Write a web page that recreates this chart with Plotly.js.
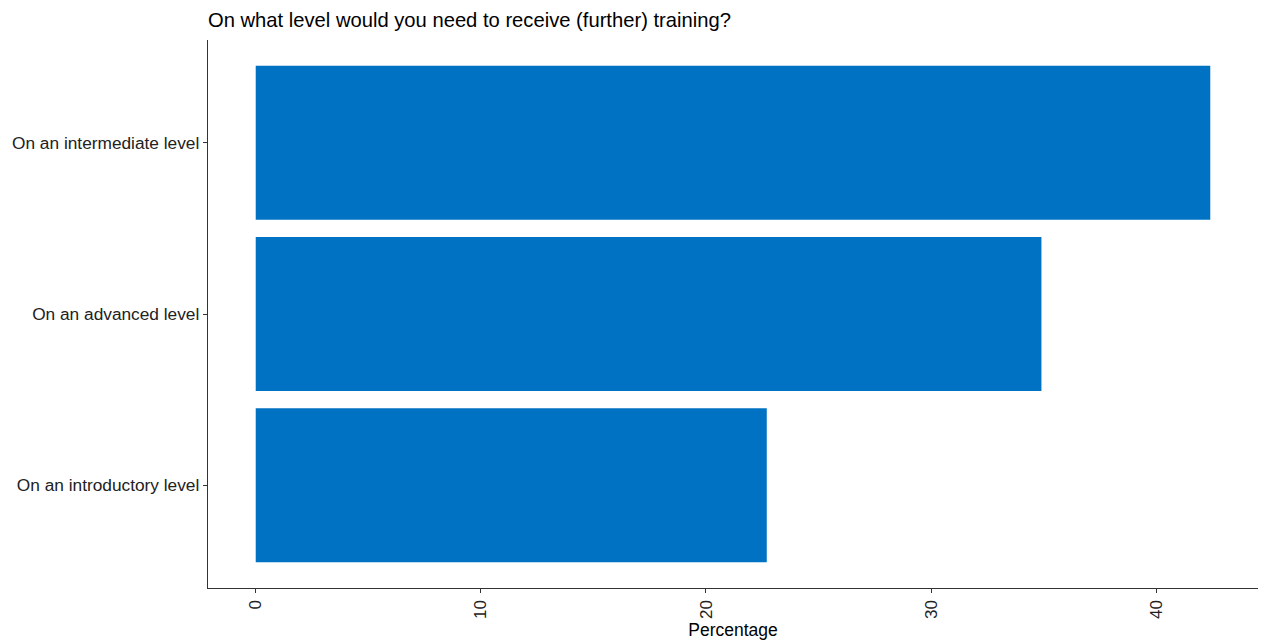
<!DOCTYPE html>
<html>
<head>
<meta charset="utf-8">
<script src="https://cdn.plot.ly/plotly-3.0.1.min.js"></script>
<style>html,body{margin:0;padding:0;background:#fff;}#chart{width:1264px;height:640px;}</style>
</head>
<body>
<div id="chart"></div>
<script>
const categories = ["On an introductory level", "On an advanced level", "On an intermediate level"];
const percentages = [22.7, 34.9, 42.4];
const chartTitle = "On what level would you need to receive (further) training?";
const xTitle = "Percentage";
const xTicks = [0, 10, 20, 30, 40];

const trace = {
  type: "bar",
  orientation: "h",
  y: categories,
  x: percentages,
  width: 0.9,
  marker: {color: "#0072C4"},
  hoverinfo: "x+y"
};

const layout = {
  width: 1264,
  height: 640,
  margin: {l: 208, r: 6, t: 40, b: 52},
  paper_bgcolor: "#fff",
  plot_bgcolor: "#fff",
  font: {family: "Liberation Sans, Arial, sans-serif", size: 17, color: "#1a1a1a"},
  title: {
    text: chartTitle,
    x: 208/1264, xanchor: "left", xref: "container",
    y: 1 - 20/640, yref: "container", yanchor: "middle",
    font: {size: 20.2, color: "#000"}
  },
  showlegend: false,
  xaxis: {
    range: [-2.12, 44.52],
    tickvals: xTicks,
    ticktext: xTicks.map(String),
    tickangle: -90,
    ticks: "outside",
    ticklen: 4,
    tickcolor: "#333",
    tickfont: {size: 17, color: "#222"},
    showgrid: false,
    zeroline: false,
    showline: true,
    linecolor: "#333",
    linewidth: 1.2,
    title: {text: xTitle, font: {size: 17.5, color: "#000"}, standoff: 6}
  },
  yaxis: {
    type: "category",
    range: [-0.6, 2.6],
    categoryorder: "array",
    categoryarray: categories,
    ticks: "outside",
    ticklen: 4,
    tickcolor: "#333",
    tickfont: {size: 17.3, color: "#222"},
    showgrid: false,
    zeroline: false,
    showline: true,
    linecolor: "#333",
    linewidth: 1.2
  }
};

Plotly.newPlot("chart", [trace], layout, {displayModeBar: false, staticPlot: true});
</script>
</body>
</html>
